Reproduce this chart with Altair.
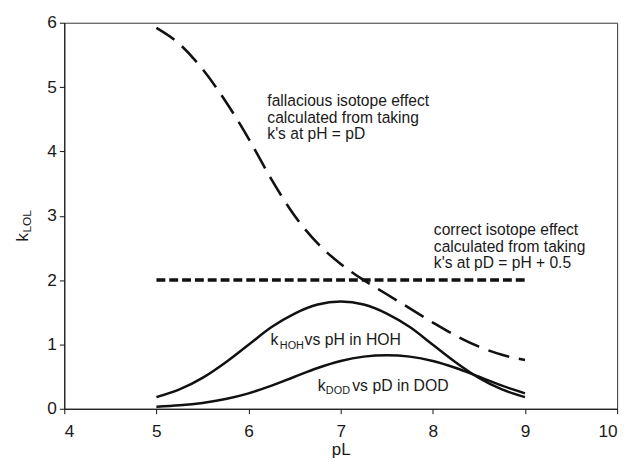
import altair as alt
import pandas as pd

# pL values
pL = [5.0, 5.25, 5.5, 5.75, 6.0, 6.25, 6.5, 6.75, 7.0, 7.25, 7.5, 7.75, 8.0, 8.25, 8.5, 8.75, 9.0]
# k_HOH vs pH in HOH
k_hoh = [0.18, 0.30, 0.48, 0.72, 0.995, 1.27, 1.48, 1.62, 1.667, 1.62, 1.48, 1.27, 0.995, 0.72, 0.48, 0.30, 0.18]
# k_DOD vs pD in DOD
k_dod = [0.031, 0.053, 0.091, 0.151, 0.240, 0.359, 0.4975, 0.633, 0.742, 0.810, 0.833, 0.810, 0.742, 0.633, 0.4975, 0.359, 0.240]
# fallacious isotope effect (k's at pH = pD)
fallacious = [5.92, 5.67, 5.28, 4.78, 4.20, 3.56, 3.00, 2.57, 2.25, 2.00, 1.78, 1.56, 1.34, 1.135, 0.965, 0.84, 0.757]
# correct isotope effect (k's at pD = pH + 0.5)
correct_x = [5.0, 9.0]
correct_y = [2.0, 2.0]

FONT = "Liberation Sans"
INK = "#111111"
TXT = "#1a1a1a"

df_hoh = pd.DataFrame({"x": pL, "y": k_hoh})
df_dod = pd.DataFrame({"x": pL, "y": k_dod})
df_fal = pd.DataFrame({"x": pL, "y": fallacious})
df_cor = pd.DataFrame({"x": correct_x, "y": correct_y})

xs = alt.Scale(domain=[4, 10], nice=False, zero=False)
ys = alt.Scale(domain=[0, 6], nice=False)

X = alt.X("x:Q", scale=xs, axis=alt.Axis(
    title="pL", values=[4, 5, 6, 7, 8, 9, 10], format="d",
    grid=False, tickSize=5, labelPadding=9, titlePadding=2,
    titleFontWeight="normal", titleFontSize=17, titleFont=FONT, titleColor=TXT,
    labelFont=FONT, labelFontSize=17.5, labelColor=TXT,
    domainColor=INK, tickColor=INK))
Y = alt.Y("y:Q", scale=ys, axis=alt.Axis(
    title=None, values=[0, 1, 2, 3, 4, 5, 6], format="d",
    grid=False, tickSize=5, labelPadding=3,
    labelFont=FONT, labelFontSize=17.5, labelColor=TXT,
    domainColor=INK, tickColor=INK))

hoh = alt.Chart(df_hoh).mark_line(color=INK, strokeWidth=2.5, interpolate="monotone").encode(x=X, y=Y)
dod = alt.Chart(df_dod).mark_line(color=INK, strokeWidth=2.5, interpolate="monotone").encode(x="x:Q", y="y:Q")
fal = alt.Chart(df_fal).mark_line(color=INK, strokeWidth=2.6, strokeDash=[22, 10], interpolate="monotone").encode(x="x:Q", y="y:Q")
cor = alt.Chart(df_cor).mark_line(color=INK, strokeWidth=3.5, strokeDash=[9, 4]).encode(x="x:Q", y="y:Q")

# annotations (data coordinates)
notes = pd.DataFrame({
    "x": [6.204, 8.011],
    "y": [4.70, 2.70],
    "t": ["fallacious isotope effect\ncalculated from taking\nk's at pH = pD",
          "correct isotope effect\ncalculated from taking\nk's at pD = pH + 0.5"],
})
note_txt = alt.Chart(notes).mark_text(
    align="left", baseline="alphabetic", font=FONT, fontSize=15.8,
    lineBreak="\n", lineHeight=16.7, color=TXT
).encode(x="x:Q", y="y:Q", text="t:N")

main_lbl = pd.DataFrame({
    "x": [6.239, 6.607, 6.750, 7.125],
    "y": [0.987, 0.987, 0.281, 0.281],
    "t": ["k", "vs pH in HOH", "k", "vs pD in DOD"],
})
sub_lbl = pd.DataFrame({
    "x": [6.339, 6.839],
    "y": [0.936, 0.230],
    "t": ["HOH", "DOD"],
})
lbl_main = alt.Chart(main_lbl).mark_text(
    align="left", baseline="alphabetic", font=FONT, fontSize=16, color=TXT
).encode(x="x:Q", y="y:Q", text="t:N")
lbl_sub = alt.Chart(sub_lbl).mark_text(
    align="left", baseline="alphabetic", font=FONT, fontSize=11, color=TXT
).encode(x="x:Q", y="y:Q", text="t:N")

# y-axis title k_LOL
ytitle_k = alt.Chart(pd.DataFrame({"y": [2.598], "t": ["k"]})).mark_text(
    align="left", baseline="alphabetic", angle=270, font=FONT, fontSize=17, color=TXT
).encode(x=alt.value(-36.7), y="y:Q", text="t:N")
ytitle_sub = alt.Chart(pd.DataFrame({"y": [2.74], "t": ["LOL"]})).mark_text(
    align="left", baseline="alphabetic", angle=270, font=FONT, fontSize=12, color=TXT
).encode(x=alt.value(-33.5), y="y:Q", text="t:N")

chart = alt.layer(
    hoh, dod, fal, cor, note_txt, lbl_main, lbl_sub, ytitle_k, ytitle_sub
).properties(
    width=560, height=391,
    autosize=alt.AutoSizeParams(type="none"),
    padding={"left": 57, "top": 12, "right": 11, "bottom": 51},
).configure_view(
    stroke="#333333", strokeWidth=1
).configure_text(font=FONT)

chart.save("out.html", embed_options={"renderer": "svg", "actions": False})
